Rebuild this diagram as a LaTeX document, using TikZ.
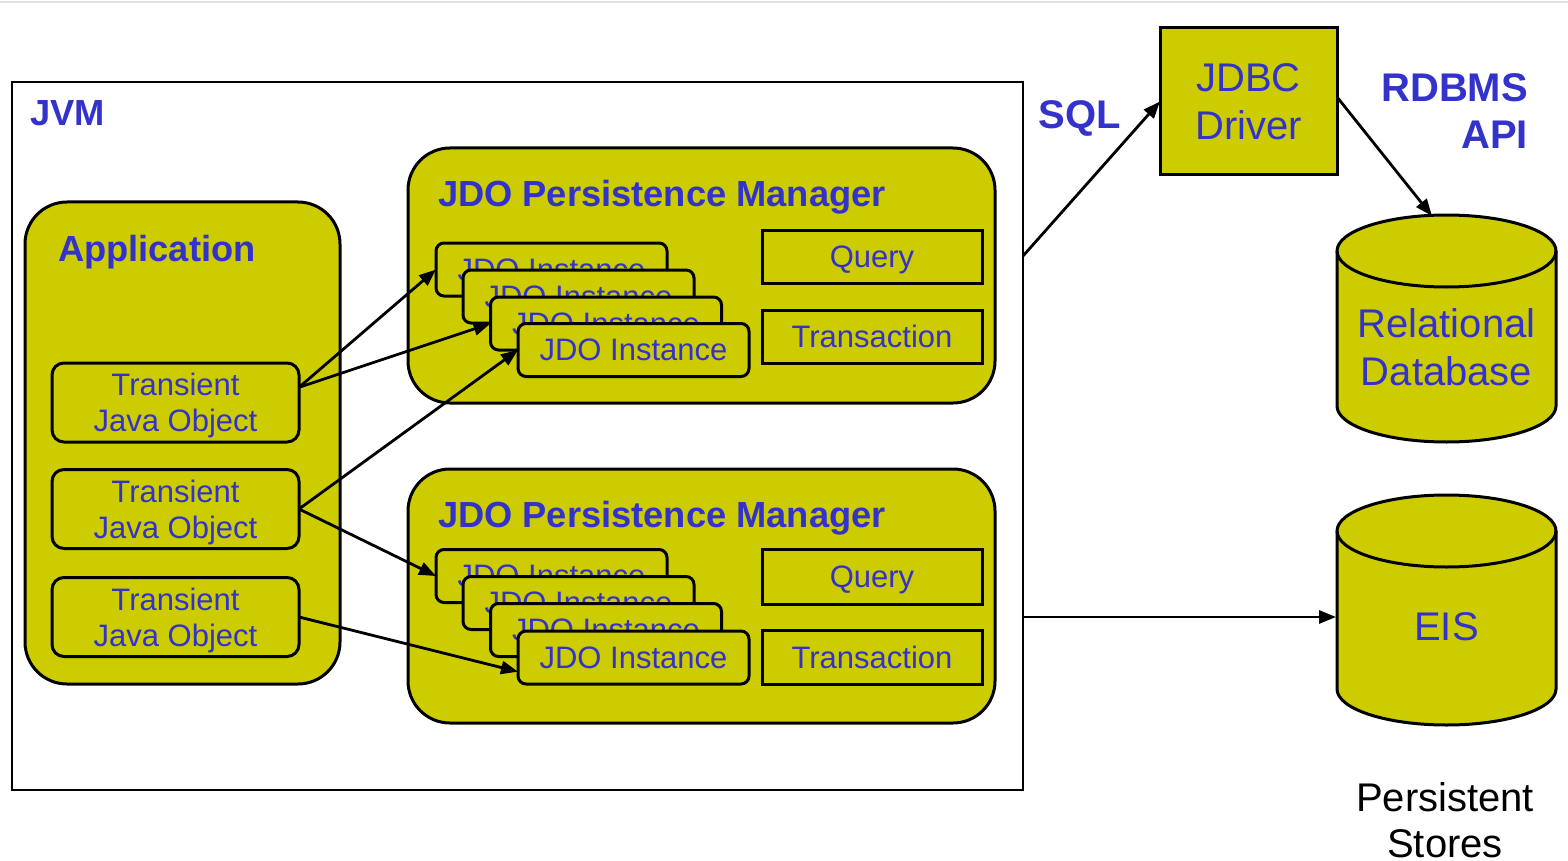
\documentclass[tikz,border=0pt]{standalone}
\usepackage{fontspec}
\setmainfont{Liberation Sans}
\usetikzlibrary{arrows.meta}
\definecolor{jdoyellow}{RGB}{204,204,0}
\definecolor{jdoblue}{RGB}{51,51,204}
\tikzset{
  every node/.style={inner sep=0pt, outer sep=0pt},
  txt/.style={font=\fontsize{31}{36}\selectfont, text=jdoblue, align=center, text depth=0pt},
  big/.style={font=\fontsize{40}{48}\selectfont, text=jdoblue, align=center, text depth=0pt},
  boldlbl/.style={font=\fontsize{36.3}{42}\selectfont\bfseries, text=jdoblue, text depth=0pt},
  boldbig/.style={font=\fontsize{40}{47}\selectfont\bfseries, text=jdoblue, text depth=0pt},
  container/.style={draw=black, line width=3pt, fill=jdoyellow, rounded corners=42pt},
  objbox/.style={txt, draw=black, line width=3pt, fill=jdoyellow, rounded corners=12pt,
    minimum width=247pt, minimum height=79pt},
  instbox/.style={txt, draw=black, line width=3pt, fill=jdoyellow, rounded corners=8pt,
    minimum width=231pt, minimum height=53pt},
  svcbox/.style={txt, draw=black, line width=3pt, fill=jdoyellow,
    minimum width=220pt, minimum height=53pt},
  conn/.style={line width=2.8pt, -{Triangle[length=17pt,width=13pt]}},
  cyl/.style={draw=black, line width=3pt, fill=jdoyellow},
}
\begin{document}
\begin{tikzpicture}[x=1pt, y=-1pt]
\useasboundingbox (0,0) rectangle (1568,861);
\draw[black!12, line width=1.5pt] (0,2) -- (1568,2);

% JVM frame
\node[draw=black, line width=2.7pt, fill=white, minimum width=1011pt, minimum height=708pt]
  (jvm) at (517.5,436) {};
\node[boldlbl, anchor=west] (jvmlbl) at (30,113) {JVM};

% Application with its transient objects
\node[container, minimum width=315pt, minimum height=482pt] (app) at (182.5,443) {};
\node[boldlbl, anchor=west] (applbl) at (58,248) {Application};
\node[objbox] (t1) at (175.5,402.5) {Transient\\Java Object};
\node[objbox] (t2) at (175.5,509) {Transient\\Java Object};
\node[objbox] (t3) at (175.5,617) {Transient\\Java Object};

% First persistence manager
\node[container, minimum width=587pt, minimum height=255pt] (pm1) at (701.5,275.5) {};
\node[boldlbl, anchor=west] (pm1lbl) at (438,193) {JDO Persistence Manager};
\node[instbox] (a1) at (551.5,269.5) {JDO Instance};
\node[instbox] (a2) at (578.5,296.5) {JDO Instance};
\node[instbox] (a3) at (606,323.5) {JDO Instance};
\node[instbox] (a4) at (633.5,350) {JDO Instance};
\node[svcbox] (q1) at (872,256.5) {Query};
\node[svcbox] (x1) at (872,336.5) {Transaction};

% Second persistence manager
\node[container, minimum width=587pt, minimum height=254pt] (pm2) at (701.5,596) {};
\node[boldlbl, anchor=west] (pm2lbl) at (438,514) {JDO Persistence Manager};
\node[instbox] (b1) at (551.5,576) {JDO Instance};
\node[instbox] (b2) at (578.5,603) {JDO Instance};
\node[instbox] (b3) at (606,630) {JDO Instance};
\node[instbox] (b4) at (633.5,657.5) {JDO Instance};
\node[svcbox, minimum height=55pt] (q2) at (872,576.5) {Query};
\node[svcbox, minimum height=54pt] (x2) at (872,657) {Transaction};

% Object to instance links
\draw[conn] (t1.7) -- (a1.west);
\draw[conn] (t1.7) -- (a3.west);
\draw[conn] (t2.east) -- (a4.west);
\draw[conn] (t2.east) -- (b1.west);
\draw[conn] (t3.east) -- (b4.187);

% Driver and stores
\node[big, draw=black, line width=3pt, fill=jdoyellow, minimum width=177pt, minimum height=147pt]
  (jdbc) at (1248.5,101.5) {JDBC\\Driver};
\node[boldbig] (sql) at (1080,115) {SQL};
\node[boldbig, align=right, anchor=east] (api) at (1528,111.5) {RDBMS\\API};

\path[cyl] (1337,251) -- (1337,406)
  arc[start angle=180, end angle=360, x radius=109.5pt, y radius=36pt] -- (1556,251)
  arc[start angle=0, end angle=180, x radius=109.5pt, y radius=36pt] -- cycle;
\draw[line width=3pt] (1337,251) arc[start angle=180, end angle=360, x radius=109.5pt, y radius=36pt];
\node[big] (rdb) at (1446.5,347) {Relational\\Database};

\path[cyl] (1337,531) -- (1337,689)
  arc[start angle=180, end angle=360, x radius=109.5pt, y radius=36pt] -- (1556,531)
  arc[start angle=0, end angle=180, x radius=109.5pt, y radius=36pt] -- cycle;
\draw[line width=3pt] (1337,531) arc[start angle=180, end angle=360, x radius=109.5pt, y radius=36pt];
\node[big] (eis) at (1446.5,627) {EIS};

\node[font=\fontsize{40}{46}\selectfont, align=center, text depth=0pt] (stores) at (1445,820) {Persistent\\Stores};

\coordinate (sqlout) at (jvm.east |- 0,256);
\coordinate (eisout) at (jvm.east |- 0,617);
\coordinate (rdbtop) at (1432,216);
\coordinate (eisin) at (1336,617);
\draw[conn] (sqlout) -- (jdbc.west);
\draw[conn] (jdbc.east |- 0,97) -- (rdbtop);
\draw[conn] (eisout) -- (eisin);
\end{tikzpicture}
\end{document}
